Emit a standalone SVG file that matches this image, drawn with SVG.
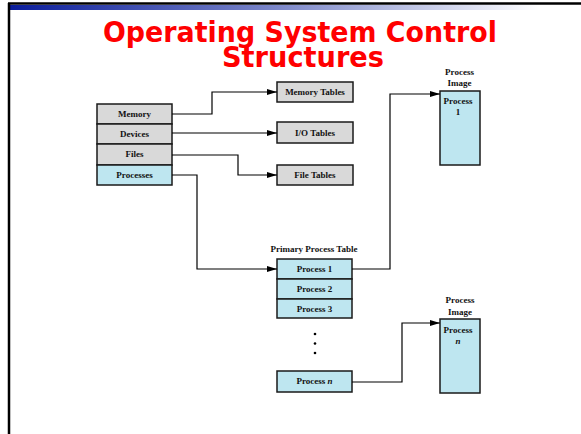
<svg xmlns="http://www.w3.org/2000/svg" width="581" height="434" viewBox="0 0 581 434">
<defs>
<linearGradient id="bar" x1="0" y1="0" x2="1" y2="0">
<stop offset="0" stop-color="#0b1d9c"/>
<stop offset="0.5" stop-color="#7b86c9"/>
<stop offset="1" stop-color="#ffffff"/>
</linearGradient>
<marker id="arr" viewBox="0 0 10 6" refX="10" refY="3" markerWidth="10" markerHeight="6" markerUnits="userSpaceOnUse" orient="auto">
<path d="M0,0 L10,3 L0,6 Z" fill="#000"/>
</marker>
<style>
.g{fill:#d9d9d9;stroke:#1a1a1a;stroke-width:1.5}
.b{fill:#bee6f0;stroke:#1a1a1a;stroke-width:1.5}
.t{font-family:"Liberation Serif",serif;font-weight:bold;font-size:9px;fill:#111;text-anchor:middle}
.c{fill:none;stroke:#000;stroke-width:1.2}
.h{font-family:"DejaVu Sans",Verdana,sans-serif;font-weight:bold;font-size:29px;fill:#f00;text-anchor:middle}
</style>
</defs>
<rect width="581" height="434" fill="#fff"/>
<rect x="10" y="5" width="530" height="5" fill="url(#bar)"/>
<line x1="8" y1="3.5" x2="581" y2="3.5" stroke="#000" stroke-width="2.5"/>
<line x1="9" y1="3" x2="9" y2="434" stroke="#000" stroke-width="2.5"/>
<g id="title">
<text class="h" x="300" y="42" textLength="394" lengthAdjust="spacingAndGlyphs">Operating System Control</text>
<text class="h" x="303" y="67" textLength="162" lengthAdjust="spacingAndGlyphs">Structures</text>
</g>
<g id="memory"><rect class="g" x="97" y="104" width="75" height="20"/><text class="t" x="134.5" y="117">Memory</text></g>
<g id="devices"><rect class="g" x="97" y="124" width="75" height="20"/><text class="t" x="134.5" y="137">Devices</text></g>
<g id="files"><rect class="g" x="97" y="144" width="75" height="21"/><text class="t" x="134.5" y="157">Files</text></g>
<g id="processes"><rect class="b" x="97" y="165" width="75" height="20"/><text class="t" x="134.5" y="178">Processes</text></g>
<g id="memory-tables"><rect class="g" x="277" y="82" width="76" height="20"/><text class="t" x="315" y="95">Memory Tables</text></g>
<g id="io-tables"><rect class="g" x="277" y="122" width="76" height="21"/><text class="t" x="315" y="136">I/O Tables</text></g>
<g id="file-tables"><rect class="g" x="277" y="165" width="76" height="20"/><text class="t" x="315" y="178">File Tables</text></g>
<g id="primary-process-table">
<text class="t" x="314" y="252">Primary Process Table</text>
<rect class="b" x="277" y="259" width="75" height="20"/><text class="t" x="314.5" y="272">Process 1</text>
<rect class="b" x="277" y="279" width="75" height="20"/><text class="t" x="314.5" y="292">Process 2</text>
<rect class="b" x="277" y="299" width="75" height="19"/><text class="t" x="314.5" y="312">Process 3</text>
<circle cx="315" cy="334" r="1.3" fill="#000"/>
<circle cx="315" cy="343.5" r="1.3" fill="#000"/>
<circle cx="315" cy="353" r="1.3" fill="#000"/>
</g>
<g id="process-n"><rect class="b" x="277" y="371" width="75" height="21"/><text class="t" x="314.5" y="384">Process <tspan font-style="italic">n</tspan></text></g>
<g id="process-image-1">
<text class="t" x="459.5" y="75" font-size="8.5">Process</text>
<text class="t" x="459.5" y="86" font-size="8.5">Image</text>
<rect class="b" x="440" y="91" width="40" height="74"/>
<text class="t" x="458" y="104">Process</text>
<text class="t" x="458" y="115">1</text>
</g>
<g id="process-image-n">
<text class="t" x="460" y="303" font-size="8.5">Process</text>
<text class="t" x="460" y="315" font-size="8.5">Image</text>
<rect class="b" x="440" y="319" width="40" height="74"/>
<text class="t" x="458" y="333">Process</text>
<text class="t" x="458" y="344" font-style="italic">n</text>
</g>
<g id="connectors">
<path class="c" d="M172,114 H212 V92 H277" marker-end="url(#arr)"/>
<path class="c" d="M172,133 H277" marker-end="url(#arr)"/>
<path class="c" d="M172,155 H238 V175 H277" marker-end="url(#arr)"/>
<path class="c" d="M172,175 H197 V269 H277" marker-end="url(#arr)"/>
<path class="c" d="M352,269 H390 V94 H440" marker-end="url(#arr)"/>
<path class="c" d="M352,382 H402 V323 H440" marker-end="url(#arr)"/>
</g>
</svg>
